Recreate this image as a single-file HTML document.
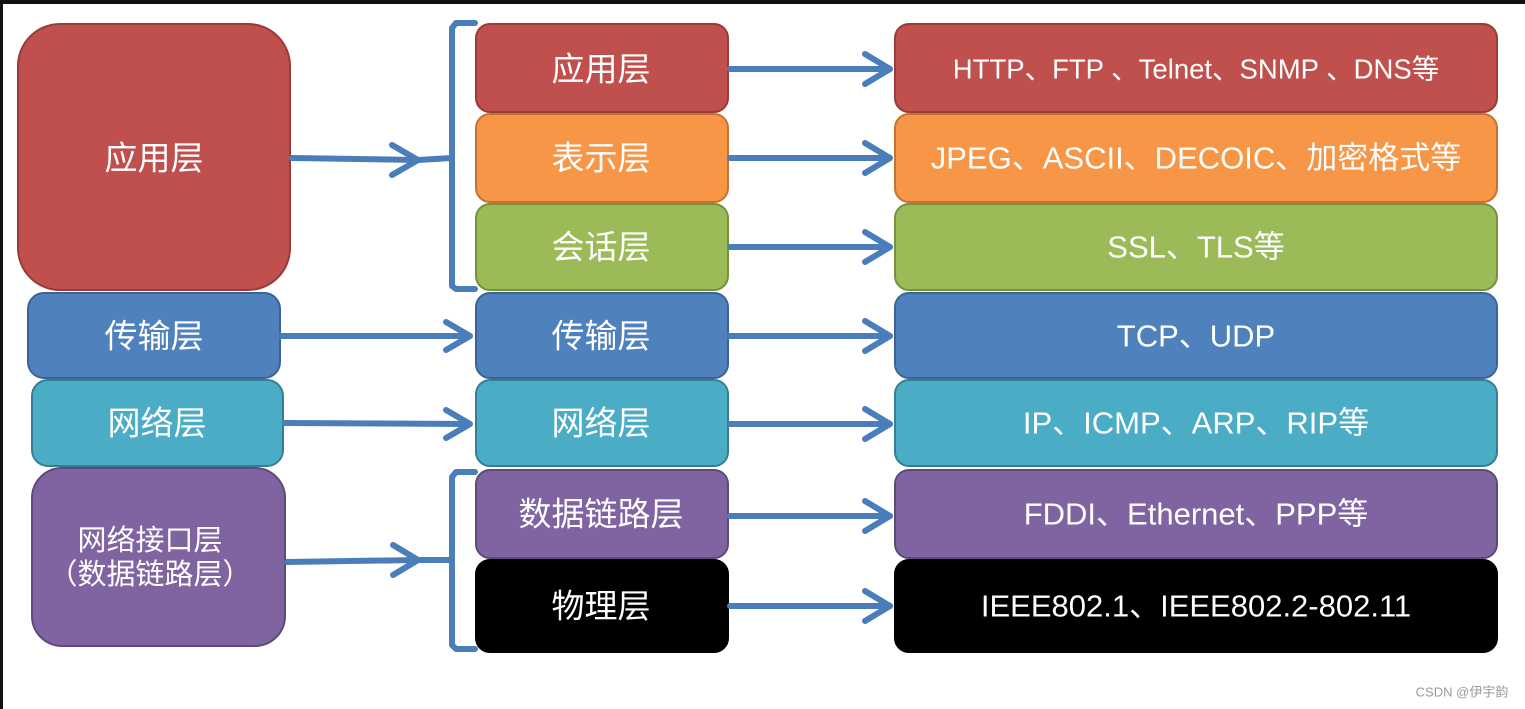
<!DOCTYPE html>
<html><head><meta charset="utf-8"><style>
html,body{margin:0;padding:0;background:#fff;}
svg{display:block}
text{font-family:"Liberation Sans","Noto Sans CJK SC",sans-serif;fill:#fff;text-anchor:middle;dominant-baseline:central}
</style></head><body>
<svg width="1525" height="709" viewBox="0 0 1525 709" xmlns="http://www.w3.org/2000/svg">
<rect x="0" y="0" width="1525" height="709" fill="#fff"/>
<rect x="0" y="0" width="1525" height="4" fill="#111"/>
<rect x="0" y="0" width="3" height="709" fill="#111"/>
<!-- left column -->
<rect x="18" y="24" width="272" height="266" rx="42" fill="#c0504d" stroke="#9b3a38" stroke-width="2"/>
<text x="154" y="158" font-size="33">应用层</text>
<rect x="28" y="293" width="252" height="85" rx="16" fill="#4f81bd" stroke="#3a6497" stroke-width="2"/>
<text x="154" y="336" font-size="33">传输层</text>
<rect x="32" y="380" width="251" height="86" rx="16" fill="#4bacc6" stroke="#357f94" stroke-width="2"/>
<text x="157" y="423" font-size="33">网络层</text>
<rect x="32" y="468" width="253" height="178" rx="30" fill="#8064a2" stroke="#5e4a79" stroke-width="2"/>
<text x="150" y="541" font-size="29">网络接口层</text>
<text x="150" y="575" font-size="29">（数据链路层）</text>
<!-- middle column -->
<g stroke-width="2">
<rect x="476" y="24" width="252" height="88" rx="14" fill="#c0504d" stroke="#9b3a38"/>
<rect x="476" y="114" width="252" height="88" rx="14" fill="#f79646" stroke="#c47430"/>
<rect x="476" y="204" width="252" height="86" rx="14" fill="#9bbb59" stroke="#76923c"/>
<rect x="476" y="293" width="252" height="85" rx="14" fill="#4f81bd" stroke="#3a6497"/>
<rect x="476" y="380" width="252" height="86" rx="14" fill="#4bacc6" stroke="#357f94"/>
<rect x="476" y="470" width="252" height="88" rx="14" fill="#8064a2" stroke="#5e4a79"/>
<rect x="476" y="560" width="252" height="92" rx="14" fill="#000" stroke="#000"/>
</g>
<g font-size="33">
<text x="601" y="69">应用层</text>
<text x="601" y="158">表示层</text>
<text x="601" y="247">会话层</text>
<text x="601" y="336">传输层</text>
<text x="601" y="423">网络层</text>
<text x="601" y="514">数据链路层</text>
<text x="601" y="606">物理层</text>
</g>
<!-- right column -->
<g stroke-width="2">
<rect x="895" y="24" width="602" height="88" rx="14" fill="#c0504d" stroke="#9b3a38"/>
<rect x="895" y="114" width="602" height="88" rx="14" fill="#f79646" stroke="#c47430"/>
<rect x="895" y="204" width="602" height="86" rx="14" fill="#9bbb59" stroke="#76923c"/>
<rect x="895" y="293" width="602" height="85" rx="14" fill="#4f81bd" stroke="#3a6497"/>
<rect x="895" y="380" width="602" height="86" rx="14" fill="#4bacc6" stroke="#357f94"/>
<rect x="895" y="470" width="602" height="88" rx="14" fill="#8064a2" stroke="#5e4a79"/>
<rect x="895" y="560" width="602" height="92" rx="14" fill="#000" stroke="#000"/>
</g>
<g font-size="31">
<text x="1196" y="69" font-size="27.5">HTTP、FTP 、Telnet、SNMP 、DNS等</text>
<text x="1196" y="158">JPEG、ASCII、DECOIC、加密格式等</text>
<text x="1196" y="247">SSL、TLS等</text>
<text x="1196" y="336">TCP、UDP</text>
<text x="1196" y="423">IP、ICMP、ARP、RIP等</text>
<text x="1196" y="514">FDDI、Ethernet、PPP等</text>
<text x="1196" y="606">IEEE802.1、IEEE802.2-802.11</text>
</g>
<!-- arrows -->
<g stroke="#4a7ebb" stroke-width="6" fill="none" stroke-linecap="round" stroke-linejoin="round">
<path d="M292 158 L418 160"/><path d="M392 145 L418 160 L392 175"/><path d="M418 160 L452 158"/>
<path d="M475 23 L456 23 L452 28 L452 286 L456 289 L475 289"/>
<path d="M287 562 L418 560"/><path d="M393 545 L418 560 L393 575"/><path d="M418 560 L452 560"/>
<path d="M475 472 L456 472 L452 477 L452 645 L456 649 L475 649"/>
<path d="M282 336 L470 336"/><path d="M446 322 L470 336 L446 350"/>
<path d="M285 423 L470 424"/><path d="M446 410 L470 424 L446 438"/>
<path d="M730 69 L890 69"/><path d="M865 54 L890 69 L865 84"/>
<path d="M730 158 L890 158"/><path d="M865 143 L890 158 L865 173"/>
<path d="M730 247 L890 247"/><path d="M865 232 L890 247 L865 262"/>
<path d="M730 336 L890 336"/><path d="M865 321 L890 336 L865 351"/>
<path d="M730 424 L890 424"/><path d="M865 409 L890 424 L865 439"/>
<path d="M730 516 L890 516"/><path d="M865 501 L890 516 L865 531"/>
<path d="M730 606 L890 606"/><path d="M865 591 L890 606 L865 621"/>
</g>
<text x="1462" y="692" font-size="13" style="fill:#999">CSDN @伊宇韵</text>
</svg>
</body></html>
